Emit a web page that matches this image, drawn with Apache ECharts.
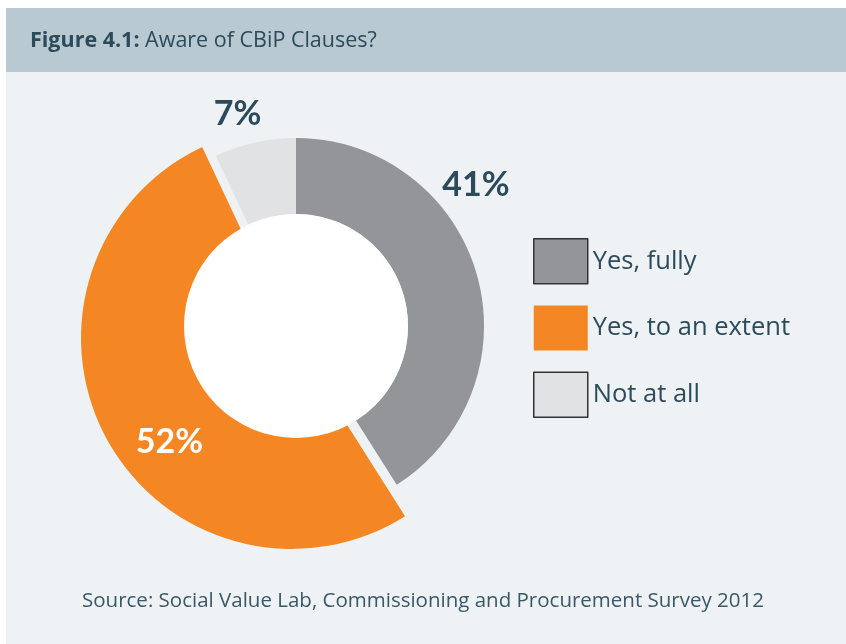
<!DOCTYPE html>
<html><head><meta charset="utf-8">
<script src="https://cdn.jsdelivr.net/npm/echarts@6/dist/echarts.min.js"></script>
<style>html,body{margin:0;padding:0;background:#fff}#c{width:846px;height:644px}</style>
</head><body><div id="c"></div>
<script>
const categories = ['Yes, fully', 'Yes, to an extent', 'Not at all'];
const values = [41, 52, 7];
const titleBold = 'Figure 4.1:';
const titleText = ' Aware of CBiP Clauses?';
const sourceText = 'Source: Social Value Lab, Commissioning and Procurement Survey 2012';

const colors = ['#939598', '#f48723', '#e1e2e4'];
const textColor = '#2c4b5a';
const font = 'Open Sans';
const labelFont = 'Lato';
// label nudges (px) from the default inside position
const labelShift = [[33, -98], [12, 30], [-25, -63]];

const chart = echarts.init(document.getElementById('c'), null, {renderer: 'canvas'});

function ringData(showIdx) {
  return categories.map((n, i) => ({
    name: n, value: values[i],
    itemStyle: showIdx.includes(i) ? {color: colors[i]} : {color: 'rgba(0,0,0,0)'},
    label: {show: showIdx.includes(i)}
  }));
}

const labelCommon = {
  position: 'inside',
  formatter: '{c}%',
  fontFamily: labelFont,
  fontWeight: 'bold',
  fontSize: 34,
  color: textColor
};

chart.setOption({
  animation: false,
  backgroundColor: '#ffffff',
  graphic: [
    {type: 'rect', shape: {x: 6, y: 8, width: 840, height: 636}, style: {fill: '#eef2f5'}, z: -10},
    {type: 'rect', shape: {x: 6, y: 8, width: 840, height: 64}, style: {fill: '#b8c9d2'}, z: -9},
    {type: 'text', left: 30, top: 30, style: {
      text: '{b|' + titleBold + '}{r|' + titleText + '}',
      rich: {
        b: {fontFamily: font, fontWeight: 'bold', fontSize: 21.5, fill: textColor},
        r: {fontFamily: font, fontSize: 21.5, fill: textColor}
      }
    }},
    {type: 'text', left: 'center', top: 591, style: {
      text: sourceText, fontFamily: font, fontSize: 20.5, fill: '#3a5866'
    }}
  ],
  legend: {
    orient: 'vertical',
    left: 528, top: 233,
    itemWidth: 54, itemHeight: 45, itemGap: 21,
    icon: 'rect',
    data: categories.map((n, i) => ({
      name: n,
      itemStyle: {color: colors[i], borderColor: i === 1 ? colors[i] : '#333', borderWidth: i === 1 ? 0 : 1.5}
    })),
    textStyle: {fontFamily: font, fontSize: 25.5, color: textColor, padding: [2, 0, 0, 0]},
    selectedMode: false
  },
  series: [
    {
      type: 'pie', name: 'orange', center: [292, 338], radius: [90, 211],
      startAngle: 90, clockwise: true, silent: true, z: 1,
      data: ringData([1]),
      label: Object.assign({}, labelCommon, {color: '#ffffff'}),
      labelLine: {show: false},
      labelLayout: p => ({dx: labelShift[p.dataIndex][0], dy: labelShift[p.dataIndex][1]})
    },
    {
      type: 'pie', name: 'ring', center: [296, 326], radius: [112, 188],
      startAngle: 90, clockwise: true, silent: true, z: 2,
      data: ringData([0, 2]),
      label: labelCommon,
      labelLine: {show: false},
      labelLayout: p => ({dx: labelShift[p.dataIndex][0], dy: labelShift[p.dataIndex][1]})
    },
    {
      type: 'pie', name: 'hole', center: [296, 326], radius: [0, 112],
      silent: true, z: 3,
      data: [{name: 'hole', value: 1, itemStyle: {color: '#ffffff'}}],
      label: {show: false}, labelLine: {show: false}
    }
  ]
});
</script></body></html>
